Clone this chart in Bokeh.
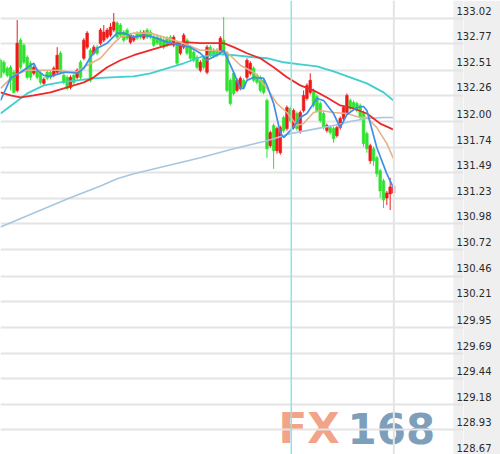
from bokeh.plotting import figure
from bokeh.models import (Range1d, LinearAxis, FixedTicker, Grid, Span, BoxAnnotation,
                          CustomJSTickFormatter)
from bokeh.core.properties import value
from bokeh.embed import file_html
from bokeh.resources import INLINE

# ---------------- data ----------------
tick_labels = ["133.02", "132.77", "132.51", "132.26", "132.00", "131.74", "131.49",
               "131.23", "130.98", "130.72", "130.46", "130.21", "129.95", "129.69",
               "129.44", "129.18", "128.93", "128.67"]
tick_values = [float(t) for t in tick_labels]

opens = [132.53, 132.51, 132.45, 132.46, 132.41, 132.23, 132.73, 132.68, 132.56, 132.50,
         132.40, 132.43, 132.40, 132.30, 132.41, 132.41, 132.38, 132.41, 132.60, 132.38,
         132.36, 132.26, 132.38, 132.36, 132.51, 132.55, 132.66, 132.63, 132.60, 132.66,
         132.70, 132.73, 132.76, 132.78, 132.83, 132.90, 132.88, 132.81, 132.83, 132.71,
         132.73, 132.80, 132.81, 132.75, 132.83, 132.81, 132.76, 132.76, 132.75, 132.73,
         132.75, 132.76, 132.68, 132.70, 132.60, 132.66, 132.73, 132.66, 132.61, 132.56,
         132.43, 132.55, 132.41, 132.66, 132.63, 132.63, 132.61, 132.73, 132.60, 132.33,
         132.40, 132.23, 132.25, 132.33, 132.36, 132.40, 132.45, 132.38, 132.36, 132.33,
         132.13, 131.68, 131.88, 131.63, 131.61, 131.96, 131.85, 132.05, 131.86, 132.00,
         131.83, 132.03, 132.15, 132.21, 132.23, 132.17, 132.10, 132.00, 131.83, 131.86,
         131.85, 131.78, 131.86, 131.95, 132.01, 132.13, 132.11, 132.10, 132.08, 132.01,
         131.80, 131.53, 131.65, 131.56, 131.43, 131.33, 131.16, 131.20, 131.21]
highs = [132.55, 132.53, 132.47, 132.48, 132.43, 132.93, 132.75, 132.70, 132.58, 132.52,
         132.48, 132.45, 132.42, 132.36, 132.43, 132.43, 132.47, 132.66, 132.62, 132.40,
         132.38, 132.38, 132.40, 132.45, 132.53, 132.75, 132.82, 132.65, 132.68, 132.68,
         132.85, 132.88, 132.85, 132.90, 133.00, 132.92, 132.90, 132.83, 132.85, 132.80,
         132.78, 132.82, 132.83, 132.83, 132.85, 132.83, 132.78, 132.78, 132.77, 132.75,
         132.77, 132.78, 132.78, 132.72, 132.70, 132.80, 132.75, 132.68, 132.63, 132.58,
         132.53, 132.57, 132.68, 132.68, 132.65, 132.65, 132.77, 132.96, 132.62, 132.35,
         132.42, 132.35, 132.37, 132.35, 132.55, 132.52, 132.47, 132.40, 132.38, 132.35,
         132.15, 131.83, 131.90, 131.87, 131.88, 131.98, 132.08, 132.07, 132.05, 132.02,
         132.03, 132.23, 132.30, 132.40, 132.25, 132.19, 132.12, 132.02, 131.90, 131.88,
         131.87, 131.88, 131.97, 132.08, 132.20, 132.15, 132.13, 132.12, 132.10, 132.03,
         131.82, 131.70, 131.67, 131.58, 131.45, 131.35, 131.23, 131.36, 131.38]
lows = [132.35, 132.39, 132.36, 132.23, 132.20, 132.21, 132.44, 132.49, 132.34, 132.33,
        132.38, 132.34, 132.29, 132.28, 132.33, 132.34, 132.36, 132.39, 132.39, 132.29,
        132.23, 132.24, 132.29, 132.34, 132.34, 132.53, 132.64, 132.31, 132.58, 132.58,
        132.68, 132.71, 132.74, 132.76, 132.81, 132.74, 132.76, 132.71, 132.73, 132.69,
        132.71, 132.73, 132.74, 132.73, 132.74, 132.74, 132.66, 132.68, 132.66, 132.64,
        132.66, 132.68, 132.66, 132.48, 132.58, 132.64, 132.58, 132.53, 132.51, 132.44,
        132.41, 132.44, 132.39, 132.56, 132.55, 132.56, 132.59, 132.58, 132.21, 132.08,
        132.18, 132.21, 132.23, 132.24, 132.34, 132.38, 132.31, 132.29, 132.21, 132.19,
        131.56, 131.66, 131.45, 131.60, 131.59, 131.81, 131.83, 131.91, 131.84, 131.83,
        131.80, 132.01, 132.13, 132.19, 132.06, 132.01, 131.91, 131.84, 131.81, 131.79,
        131.71, 131.76, 131.84, 131.93, 131.99, 132.03, 132.04, 132.01, 131.94, 131.67,
        131.61, 131.50, 131.48, 131.37, 131.16, 131.06, 131.09, 131.04, 131.18]
closes = [132.36, 132.41, 132.38, 132.33, 132.21, 132.70, 132.46, 132.51, 132.36, 132.36,
          132.46, 132.36, 132.31, 132.34, 132.35, 132.36, 132.45, 132.58, 132.41, 132.31,
          132.25, 132.36, 132.31, 132.43, 132.36, 132.73, 132.80, 132.33, 132.66, 132.60,
          132.83, 132.81, 132.83, 132.86, 132.91, 132.76, 132.78, 132.73, 132.75, 132.78,
          132.76, 132.75, 132.76, 132.81, 132.76, 132.76, 132.68, 132.70, 132.68, 132.66,
          132.68, 132.70, 132.76, 132.50, 132.68, 132.78, 132.60, 132.55, 132.53, 132.46,
          132.51, 132.46, 132.66, 132.58, 132.57, 132.58, 132.75, 132.60, 132.23, 132.10,
          132.20, 132.33, 132.35, 132.26, 132.53, 132.50, 132.33, 132.31, 132.23, 132.21,
          131.65, 131.81, 131.63, 131.85, 131.86, 131.83, 132.06, 131.93, 132.03, 131.85,
          132.01, 132.18, 132.28, 132.33, 132.08, 132.03, 131.93, 131.86, 131.88, 131.81,
          131.75, 131.86, 131.95, 132.06, 132.18, 132.05, 132.06, 132.03, 131.96, 131.70,
          131.65, 131.68, 131.53, 131.40, 131.23, 131.14, 131.21, 131.27, 131.28]

ma5_x = [0, 3, 6, 10, 11, 13, 15, 17, 19, 22, 23, 25, 27, 29, 32, 35, 37, 40, 43, 46, 50, 54,
         57, 60, 62, 66, 67, 70, 72, 73, 74, 76, 79, 80, 82, 84, 85, 87, 89, 90, 92, 95, 97,
         100, 102, 104, 107, 109, 110, 113, 116, 118]
ma5_y = [132.13, 132.35, 132.41, 132.50, 132.43, 132.38, 132.37, 132.39, 132.41, 132.41,
         132.40, 132.45, 132.56, 132.65, 132.70, 132.80, 132.80, 132.76, 132.78, 132.76,
         132.71, 132.68, 132.66, 132.60, 132.53, 132.60, 132.63, 132.41, 132.25, 132.25,
         132.33, 132.36, 132.35, 132.28, 132.10, 131.81, 131.76, 131.83, 131.91, 131.96,
         132.00, 132.15, 132.13, 132.00, 131.86, 131.99, 132.06, 132.07, 132.03, 131.66,
         131.40, 131.26]

ma10_x = [0, 4, 8, 13, 18, 22, 26, 30, 34, 36, 40, 45, 50, 54, 60, 64, 68, 72, 76, 80, 83,
          86, 89, 91, 94, 96, 100, 104, 108, 110, 113, 116, 118]
ma10_y = [132.25, 132.38, 132.43, 132.43, 132.43, 132.40, 132.48, 132.55, 132.70, 132.76,
          132.80, 132.80, 132.75, 132.71, 132.63, 132.63, 132.61, 132.48, 132.41, 132.25,
          132.10, 132.01, 131.88, 131.90, 132.01, 132.03, 132.01, 132.00, 131.96, 131.96,
          131.86, 131.70, 131.55]

ma20_x = [0, 3, 6, 10, 15, 20, 25, 28, 32, 36, 40, 45, 50, 55, 60, 64, 67, 70, 74, 78, 82,
          86, 90, 94, 98, 102, 106, 110, 114, 118]
ma20_y = [132.21, 132.18, 132.16, 132.18, 132.21, 132.26, 132.31, 132.36, 132.46, 132.53,
          132.58, 132.63, 132.68, 132.71, 132.70, 132.70, 132.70, 132.66, 132.60, 132.55,
          132.46, 132.36, 132.28, 132.23, 132.16, 132.08, 132.05, 132.00, 131.90, 131.84]

ma60_x = [0, 4, 8, 13, 18, 23, 28, 33, 40, 45, 50, 55, 60, 65, 70, 76, 80, 85, 90, 95, 100,
          105, 110, 115, 118]
ma60_y = [132.00, 132.10, 132.20, 132.28, 132.31, 132.33, 132.35, 132.36, 132.37, 132.40,
          132.45, 132.50, 132.56, 132.59, 132.58, 132.56, 132.55, 132.51, 132.49, 132.47,
          132.42, 132.36, 132.30, 132.21, 132.13]

ma200_x = [0, 10, 20, 30, 35, 40, 50, 60, 70, 80, 87, 95, 100, 105, 110, 115, 118]
ma200_y = [130.87, 131.01, 131.15, 131.28, 131.35, 131.40, 131.48, 131.56, 131.65, 131.73,
           131.80, 131.85, 131.88, 131.92, 131.95, 131.96, 131.96]

marker_bar = 87.3      # session marker (cyan vertical line)
last_bar = 118.1       # grey vertical line at latest bar

# ---------------- styling ----------------
UP = "#ee1a1a"
DOWN = "#2fe22f"

n = len(opens)
assert len(highs) == n and len(lows) == n and len(closes) == n
idx = list(range(n))
colors = [UP if c >= o else DOWN for o, c in zip(opens, closes)]
tops = [max(o, c) for o, c in zip(opens, closes)]
bottoms = [min(o, c) for o, c in zip(opens, closes)]

W, H, RB = 500, 454, 37
X_AXIS_START = 136.02   # where the grey price-scale band begins (bar units)
p = figure(width=W, height=H, output_backend="svg", toolbar_location=None,
           x_range=Range1d(-0.02, 139.02), y_range=Range1d(128.6075, 133.1245),
           x_axis_location=None, y_axis_location=None,
           min_border_left=0, min_border_top=0, min_border_bottom=0, min_border_right=RB)
p.center = [r for r in p.center if not isinstance(r, Grid)]
p.outline_line_color = None
p.background_fill_color = "white"
p.border_fill_color = "#efefef"

p.add_layout(BoxAnnotation(left=X_AXIS_START, fill_color="#efefef", fill_alpha=1,
                           line_color=None, level="underlay"))

grid_vals = [t - 0.077 for t in tick_values]
p.add_layout(Grid(dimension=1, ticker=FixedTicker(ticks=grid_vals),
                  grid_line_color="#e4e4e4", grid_line_width=2))

ax = LinearAxis(ticker=FixedTicker(ticks=tick_values, minor_ticks=[]),
                formatter=CustomJSTickFormatter(code="return tick.toFixed(2)"),
                major_tick_out=0, major_tick_in=0, major_tick_line_color=None,
                axis_line_color=None, minor_tick_line_color=None,
                major_label_standoff=-7,
                major_label_text_font="DejaVu Sans", major_label_text_font_size="10px",
                major_label_text_color="#2a2a2a")
p.add_layout(ax, "right")

# watermark
p.text(x=[83.5], y=[128.866], text=["FX"], text_font=value("DejaVu Sans"),
       text_font_style="bold", text_font_size="42px", text_color="#f2a488",
       text_baseline="middle", level="image")
p.text(x=[104.2], y=[128.866], text=["168"], text_font=value("DejaVu Sans"),
       text_font_style="bold", text_font_size="42px", text_color="#7e9fbc",
       text_baseline="middle", level="image")

p.add_layout(Span(location=last_bar, dimension="height", line_color="#e4e4e4", line_width=2))
p.add_layout(Span(location=marker_bar, dimension="height", line_color="#8fe3e3", line_width=1.5))

src = dict(x=idx, high=highs, low=lows, top=tops, bottom=bottoms, color=colors)
p.segment(x0="x", y0="high", x1="x", y1="low", color="color", line_width=1, source=src)
p.vbar(x="x", width=0.8, top="top", bottom="bottom", fill_color="color", line_color="color",
       line_width=0.6, source=src)

p.line(ma200_x, ma200_y, line_color="#a5c7e1", line_width=1.6)
p.line(ma60_x, ma60_y, line_color="#3fcfcf", line_width=1.8)
p.line(ma20_x, ma20_y, line_color="#ec2a2a", line_width=1.8)
p.line(ma10_x, ma10_y, line_color="#e6b088", line_width=1.6)
p.line(ma5_x, ma5_y, line_color="#3f8fe6", line_width=1.7)

open("out.html", "w").write(file_html(p, INLINE))
